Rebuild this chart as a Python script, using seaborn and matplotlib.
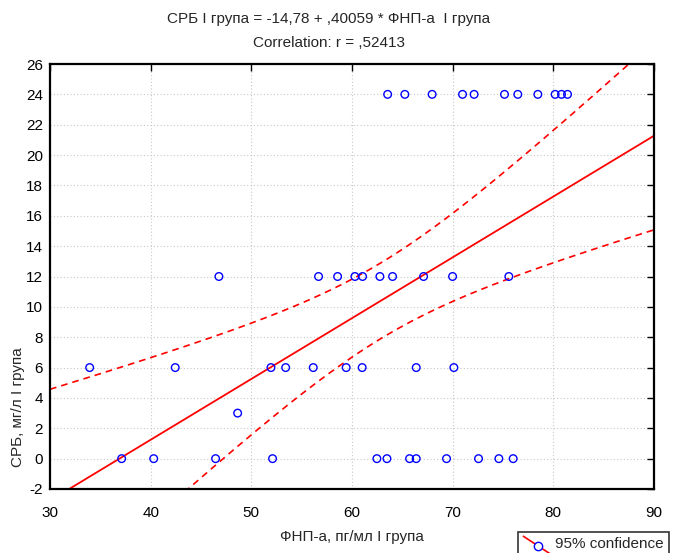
import numpy as np
import pandas as pd
import matplotlib
matplotlib.use("Agg")
import matplotlib.pyplot as plt
import seaborn as sns
from matplotlib.lines import Line2D
from matplotlib.legend_handler import HandlerBase
from matplotlib import font_manager

# ---- data ----
x_y24 = [63.54, 65.25, 67.96, 70.98, 72.13, 75.15, 76.47, 78.46, 80.18, 80.81, 81.41]
x_y12 = [46.78, 56.68, 58.57, 60.29, 61.05, 62.77, 64.03, 67.11, 69.99, 75.58]
x_y6 = [33.94, 42.44, 51.95, 53.41, 56.15, 59.42, 61.01, 66.38, 70.12]
x_y3 = [48.64]
x_y0 = [37.12, 40.30, 46.45, 52.11, 62.47, 63.47, 65.72, 66.38, 69.39, 72.57, 74.59, 76.01]
levels = [24, 12, 6, 3, 0]

# regression coefficients stated in the chart title
intercept = -14.78
slope = 0.40059

title1 = "СРБ I група = -14,78 + ,40059 * ФНП-а  I група"
title2 = "Correlation: r = ,52413"
xlabel = "ФНП-а, пг/мл I група"
ylabel = "СРБ, мг/л I група"
legend_label = "95% confidence"
xticks = [30, 40, 50, 60, 70, 80, 90]
yticks = list(range(-2, 27, 2))

xs, ys = [], []
for lv, arr in zip(levels, [x_y24, x_y12, x_y6, x_y3, x_y0]):
    xs += arr
    ys += [lv] * len(arr)
df = pd.DataFrame({"x": xs, "y": ys})

# ---- fonts ----
avail = {f.name for f in font_manager.fontManager.ttflist}
fam = [f for f in ["Liberation Sans Narrow", "Liberation Sans", "DejaVu Sans"] if f in avail]

sns.set_style("white")
plt.rcParams["font.family"] = fam
plt.rcParams["font.size"] = 10
plt.rcParams["axes.unicode_minus"] = False

W, H = 682, 553
fig = plt.figure(figsize=(W / 100, H / 100), dpi=100)
ax = fig.add_axes([50 / W, 1 - 489 / H, (654 - 50) / W, (489 - 64) / H])
ax.set_xlim(30, 90)
ax.set_ylim(-2, 26)

# regression line and analytic 95% confidence bands
n = len(df)
resid = df.y - (intercept + slope * df.x)
s = np.sqrt((resid ** 2).sum() / (n - 2))
xbar = df.x.mean()
sxx = ((df.x - xbar) ** 2).sum()
tval = 2.0195  # t(0.975, 41)
gx = np.linspace(30, 90, 200)
half = tval * s * np.sqrt(1 / n + (gx - xbar) ** 2 / sxx)
fit = intercept + slope * gx
lines = pd.DataFrame({"x": np.r_[gx, gx, gx],
                      "y": np.r_[fit, fit + half, fit - half],
                      "kind": ["fit"] * len(gx) + ["up"] * len(gx) + ["lo"] * len(gx)})
sns.lineplot(data=lines[lines.kind == "fit"], x="x", y="y", ax=ax, color="red",
             lw=1.3, legend=False)
for side in ["up", "lo"]:
    sns.lineplot(data=lines[lines.kind == side], x="x", y="y", ax=ax, color="red",
                 lw=1.2, linestyle=(0, (4, 3)), legend=False)

# points
sns.scatterplot(data=df, x="x", y="y", ax=ax, marker="o", s=30,
                facecolor="none", edgecolor="#0000ff", linewidth=1.0, zorder=5)

ax.set_xlim(30, 90)
ax.set_ylim(-2, 26)
ax.set_xticks(xticks)
ax.set_yticks(yticks)
ax.grid(True, color="#c8c8c8", linestyle=(0, (1, 2)), linewidth=0.8)
ax.tick_params(direction="in", length=5, width=1, top=True, right=True,
               labelsize=11, colors="black")
ax.tick_params(axis="x", labeltop=False, pad=12)
ax.tick_params(axis="y", pad=5)
for sp in ax.spines.values():
    sp.set_visible(True)
    sp.set_color("black")
    sp.set_linewidth(1.6)
ax.set_xlabel("")
ax.set_ylabel("")

fig.text(329 / W, 1 - 19 / H, title1, ha="center", va="center", fontsize=11)
fig.text(329 / W, 1 - 43 / H, title2, ha="center", va="center", fontsize=11)
fig.text(352 / W, 1 - 537 / H, xlabel, ha="center", va="center", fontsize=11)
fig.text(18 / W, 1 - 407 / H, ylabel, ha="center", va="center", rotation=90, fontsize=11)


class DiagHandler(HandlerBase):
    def create_artists(self, legend, orig_handle, xdescent, ydescent, width, height,
                       fontsize, trans):
        x0, x1 = -xdescent, -xdescent + width
        y0, y1 = -ydescent - 5, -ydescent + height + 1
        ln = Line2D([x0, x1], [y1, y0], color="red", lw=1.2, transform=trans)
        mk = Line2D([(x0 + x1) / 2], [(y0 + y1) / 2], marker="o", markersize=6,
                    markerfacecolor="white", markeredgecolor="#0000ff", lw=0,
                    transform=trans)
        return [ln, mk]


handle = Line2D([], [], color="red")
leg = fig.legend([handle], [legend_label], handler_map={Line2D: DiagHandler()},
                 loc="upper left", bbox_to_anchor=(518 / W, 1 - 532 / H),
                 frameon=True, fancybox=False, edgecolor="black", fontsize=11,
                 handlelength=1.9, handletextpad=0.2, borderpad=0.35,
                 borderaxespad=0)
leg.get_frame().set_linewidth(1.2)

fig.savefig("out.png", dpi=100)
